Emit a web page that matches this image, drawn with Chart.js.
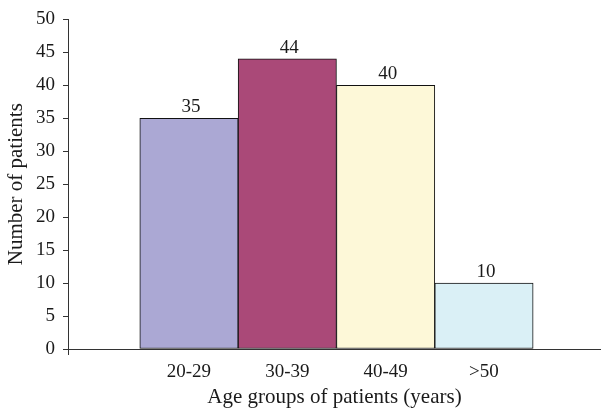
<!DOCTYPE html>
<html>
<head>
<meta charset="utf-8">
<script src="https://cdn.jsdelivr.net/npm/chart.js@4"></script>
<style>
  html, body { margin: 0; padding: 0; background: #fff; }
  #wrap { width: 601px; height: 410px; }
</style>
</head>
<body>
<div id="wrap"><canvas id="ageChart" width="601" height="410"></canvas></div>
<script>
// ===== Data =====
const ageGroups = ['20-29', '30-39', '40-49', '>50'];
const patients = [35, 44, 40, 10];
const barColors = ['#aba8d4', '#aa4978', '#fdf8d8', '#daf0f6'];
const yTicks = [0, 5, 10, 15, 20, 25, 30, 35, 40, 45, 50];

// x range of the plot (in category units, groups sit at 1..4)
const xMin = -0.23;
const xMax = 5.19;

const serif = 'Liberation Serif';
const ink = '#1a1a1a';

// value labels above each bar
const barLabels = {
  id: 'barLabels',
  afterDatasetsDraw(chart) {
    const ctx = chart.ctx;
    const meta = chart.getDatasetMeta(0);
    ctx.save();
    ctx.font = '19px "' + serif + '"';
    ctx.fillStyle = ink;
    ctx.textAlign = 'center';
    ctx.textBaseline = 'alphabetic';
    meta.data.forEach((bar, i) => {
      ctx.fillText(String(patients[i]), bar.x + 2, bar.y - 6);
    });
    ctx.restore();
  }
};

new Chart(document.getElementById('ageChart'), {
  type: 'bar',
  data: {
    datasets: [{
      data: patients.map((v, i) => ({ x: i + 1, y: v })),
      backgroundColor: barColors,
      borderColor: '#111',
      borderWidth: 1,
      borderSkipped: false,
      barPercentage: 1,
      categoryPercentage: 1
    }]
  },
  options: {
    responsive: false,
    animation: false,
    layout: { padding: { top: 19, right: 0, left: 0, bottom: 0 } },
    plugins: { legend: { display: false }, tooltip: { enabled: false } },
    scales: {
      x: {
        type: 'linear',
        min: xMin,
        max: xMax,
        offset: false,
        afterBuildTicks: scale => {
          scale.ticks = [{ value: xMin }].concat(ageGroups.map((g, i) => ({ value: i + 1 })));
        },
        afterFit: scale => { scale.height = 61; },
        grid: {
          offset: false,
          drawOnChartArea: false,
          tickLength: 6,
          tickColor: ctx => (ctx.tick && ctx.tick.value === xMin) ? '#333' : 'rgba(0,0,0,0)'
        },
        border: { color: '#333', width: 1 },
        ticks: {
          color: ink,
          font: { family: serif, size: 19 },
          padding: 6,
          maxRotation: 0,
          callback: v => (Number.isInteger(v) && v >= 1 && v <= ageGroups.length) ? ageGroups[v - 1] : ''
        },
        title: {
          display: true,
          text: 'Age groups of patients (years)',
          color: ink,
          font: { family: serif, size: 21 },
          padding: { top: 0, bottom: 0 }
        }
      },
      y: {
        min: 0,
        max: 50,
        afterBuildTicks: scale => { scale.ticks = yTicks.map(v => ({ value: v })); },
        afterFit: scale => { scale.width = 68; },
        grid: { drawOnChartArea: false, tickLength: 5, tickColor: '#333' },
        border: { color: '#333', width: 1 },
        ticks: {
          color: ink,
          font: { family: serif, size: 19 },
          padding: 8
        },
        title: {
          display: true,
          text: 'Number of patients',
          color: ink,
          font: { family: serif, size: 21 },
          padding: { top: 4, bottom: 0 }
        }
      }
    }
  },
  plugins: [barLabels]
});
</script>
</body>
</html>
